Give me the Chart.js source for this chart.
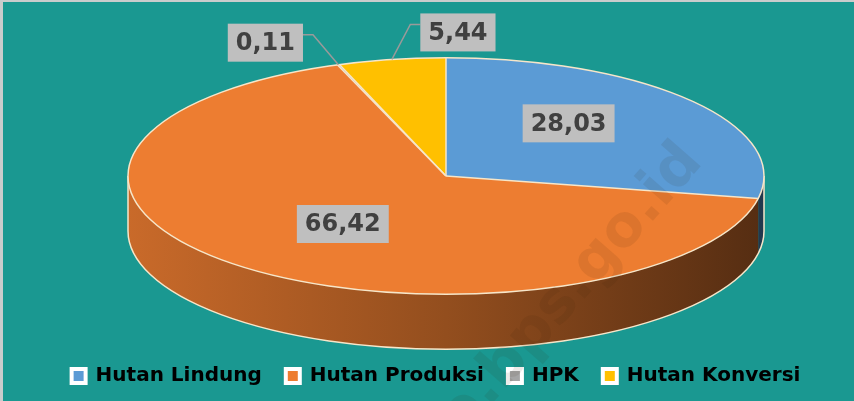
<!DOCTYPE html>
<html>
<head>
<meta charset="utf-8">
<script src="https://cdn.jsdelivr.net/npm/chart.js@4.4.1/dist/chart.umd.min.js"></script>
<style>
    html, body { margin: 0; padding: 0; background: #1a9891; }
    #wrap { width: 854px; height: 401px; position: relative; }
</style>
</head>
<body>
<div id="wrap"><canvas id="pieChart"></canvas></div>
<script>
const categories = ['Hutan Lindung', 'Hutan Produksi', 'HPK', 'Hutan Konversi'];
const shares = [28.03, 66.42, 0.11, 5.44];
const sliceColors = ['#5B9BD5', '#ED7D31', '#A5A5A5', '#FFC000'];

// 3D look: vertical squash, side depth, horizontal shift of the pie
const tilt = 0.372;
const depth = 55;
const shiftX = 10;
// where each value label goes: inside (fraction of radius) or outside (box offset from the rim)
const labelPlacement = [
    { inside: 0.5, dy: -15 },
    { inside: 0.5, dy: 3 },
    { outside: [-73, -22] },
    { outside: [66, -27] }
];

const fmt = v => v.toFixed(2).replace('.', ',');

function shade(hex, f) {
    const n = parseInt(hex.slice(1), 16);
    const r = Math.round(((n >> 16) & 255) * f);
    const g = Math.round(((n >> 8) & 255) * f);
    const b = Math.round((n & 255) * f);
    return `rgb(${r},${g},${b})`;
}

function geometry(chart) {
    const arcs = chart.getDatasetMeta(0).data;
    const r = arcs[0].outerRadius;
    return { arcs, cx: arcs[0].x + shiftX, cy: arcs[0].y, r, ry: r * tilt };
}

const pie3d = {
    id: 'pie3d',
    beforeDraw(chart) {
        const ctx = chart.ctx;
        ctx.save();
        ctx.fillStyle = '#1a9891';
        ctx.fillRect(0, 0, chart.width, chart.height);
        ctx.fillStyle = '#c9cccc';
        ctx.fillRect(0, 0, chart.width, 2);
        ctx.fillRect(0, 0, 3, chart.height);
        ctx.restore();
    },
    beforeDatasetsDraw(chart) {
        const ctx = chart.ctx;
        const { arcs, cx, cy, r, ry } = geometry(chart);
        // side wall, only the front half (angles 0..PI) is visible
        arcs.forEach((arc, i) => {
            const a0 = Math.max(arc.startAngle, 0);
            const a1 = Math.min(arc.endAngle, Math.PI);
            if (a1 <= a0) return;
            const g = ctx.createLinearGradient(cx - r, 0, cx + r, 0);
            g.addColorStop(0, shade(sliceColors[i], 0.85));
            g.addColorStop(0.5, shade(sliceColors[i], 0.62));
            g.addColorStop(1, shade(sliceColors[i], 0.36));
            ctx.beginPath();
            ctx.ellipse(cx, cy, r, ry, 0, a0, a1);
            ctx.ellipse(cx, cy + depth, r, ry, 0, a1, a0, true);
            ctx.closePath();
            ctx.fillStyle = g;
            ctx.fill();
        });
        ctx.save();
        ctx.strokeStyle = '#f7e6c9';
        ctx.lineWidth = 1.5;
        ctx.beginPath();
        ctx.ellipse(cx, cy + depth, r, ry, 0, 0, Math.PI);
        ctx.moveTo(cx - r, cy);
        ctx.lineTo(cx - r, cy + depth);
        ctx.moveTo(cx + r, cy);
        ctx.lineTo(cx + r, cy + depth);
        ctx.stroke();
        ctx.restore();
        // squash the top face
        ctx.save();
        ctx.translate(shiftX, cy);
        ctx.scale(1, tilt);
        ctx.translate(0, -cy);
    },
    afterDatasetsDraw(chart) {
        const ctx = chart.ctx;
        ctx.restore();
        const { arcs, cx, cy, r, ry } = geometry(chart);
        ctx.save();
        ctx.strokeStyle = '#f7e6c9';
        ctx.lineWidth = 1.5;
        ctx.beginPath();
        ctx.ellipse(cx, cy, r, ry, 0, 0, Math.PI * 2);
        ctx.stroke();
        arcs.forEach(arc => {
            const a = arc.startAngle;
            ctx.beginPath();
            ctx.moveTo(cx, cy);
            ctx.lineTo(cx + r * Math.cos(a), cy + ry * Math.sin(a));
            ctx.stroke();
        });

        // value labels
        ctx.font = 'bold 24px "DejaVu Sans"';
        ctx.textAlign = 'center';
        ctx.textBaseline = 'middle';
        arcs.forEach((arc, i) => {
            const m = (arc.startAngle + arc.endAngle) / 2;
            const p = labelPlacement[i];
            const text = fmt(shares[i]);
            const w = ctx.measureText(text).width + 16;
            const h = 38;
            let bx, by;
            if (p.inside) {
                bx = cx + r * p.inside * Math.cos(m);
                by = cy + ry * p.inside * Math.sin(m) + p.dy;
            } else {
                const ex = cx + r * Math.cos(m);
                const ey = cy + ry * Math.sin(m);
                bx = ex + p.outside[0];
                by = ey + p.outside[1];
                const side = p.outside[0] < 0 ? 1 : -1;
                const edgeX = bx + side * w / 2;
                ctx.strokeStyle = '#9a9a9a';
                ctx.lineWidth = 1.5;
                ctx.beginPath();
                ctx.moveTo(edgeX, by - 8);
                ctx.lineTo(edgeX + side * 10, by - 8);
                ctx.lineTo(ex, ey);
                ctx.stroke();
            }
            ctx.fillStyle = '#bfbfbf';
            ctx.fillRect(bx - w / 2, by - h / 2, w, h);
            ctx.fillStyle = '#404040';
            ctx.fillText(text, bx, by + 1);
        });

        // source watermark
        ctx.translate(572, 290);
        ctx.rotate(-0.85);
        ctx.font = 'bold 58px "DejaVu Sans"';
        ctx.fillStyle = 'rgba(60,30,10,0.09)';
        ctx.fillText('e.bps.go.id', 0, 0);
        ctx.restore();
    }
};

new Chart(document.getElementById('pieChart'), {
    type: 'pie',
    data: {
        labels: categories,
        datasets: [{
            data: shares,
            backgroundColor: sliceColors,
            borderWidth: 0,
            radius: 318,
            clip: false
        }]
    },
    options: {
        responsive: true,
        maintainAspectRatio: false,
        animation: false,
        events: [],
        layout: { padding: { left: 18, top: 10, bottom: 5 } },
        plugins: {
            tooltip: { enabled: false },
            legend: {
                position: 'bottom',
                labels: {
                    color: '#000',
                    boxWidth: 14,
                    boxHeight: 14,
                    padding: 24,
                    font: { family: '"DejaVu Sans"', size: 20, weight: 'bold' },
                    generateLabels: chart => categories.map((c, i) => ({
                        text: c,
                        fillStyle: sliceColors[i],
                        strokeStyle: '#ffffff',
                        lineWidth: 4,
                        fontColor: '#000',
                        index: i
                    }))
                }
            }
        }
    },
    plugins: [pie3d]
});
</script>
</body>
</html>
